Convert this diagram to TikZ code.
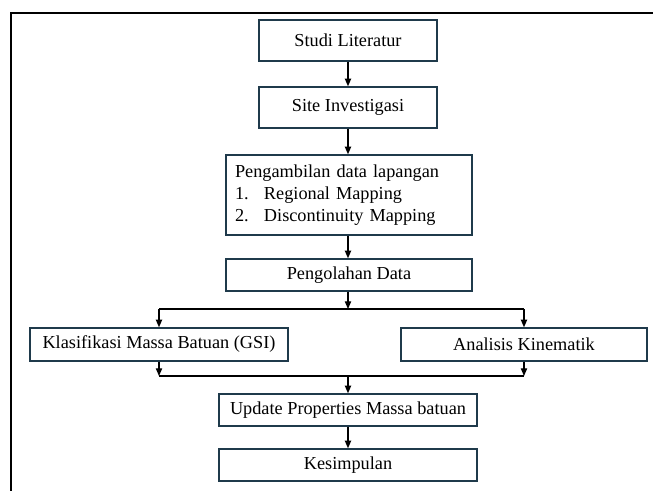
\documentclass[tikz,border=0pt]{standalone}
\usepackage{fontspec}
\setmainfont{Liberation Serif}
\usetikzlibrary{arrows.meta}
\definecolor{boxline}{HTML}{1F3A4B}

\begin{document}
\begin{tikzpicture}[
    box/.style={draw=boxline, line width=1pt, minimum height=0.8cm, inner sep=0pt,
      font=\fontsize{13}{15.6}\selectfont},
    arr/.style={-{Triangle[length=5.5pt,width=4.5pt]}, line width=0.9pt}
  ]
    \useasboundingbox (0,0) rectangle (16.325,12.275);
    \draw[line width=1.4pt] (0.275,0) -- (0.275,11.95) -- (16.5,11.95);

    \node[box, minimum width=4.45cm, minimum height=1.025cm] (studi) at (8.7,11.2625) {Studi Literatur};
    \node[box, minimum width=4.45cm, minimum height=1.025cm] (site) at (8.7,9.5875) {Site Investigasi};
    \node[box, minimum width=6.15cm, minimum height=2cm, text width=5.7cm, align=left] (ambil) at (8.725,7.4)
      {Pengambilan data lapangan\\
       \makebox[0.725cm][l]{1.}Regional Mapping\\
       \makebox[0.725cm][l]{2.}Discontinuity Mapping};
    \node[box, minimum width=6.15cm] (olah) at (8.725,5.4) {Pengolahan Data};
    \node[box, minimum width=6.45cm, minimum height=0.825cm] (gsi) at (3.975,3.6625) {Klasifikasi Massa Batuan (GSI)};
    \node[box, minimum width=6.15cm, minimum height=0.825cm] (kin) at (13.1,3.6625) {Analisis Kinematik};
    \node[box, minimum width=6.45cm] (update) at (8.7,2.025) {Update Properties Massa batuan};
    \node[box, minimum width=6.45cm] (simpul) at (8.7,0.65) {Kesimpulan};

    \coordinate (split) at (8.7,4.55);
    \coordinate (merge) at (8.7,2.875);

    \draw[arr] (studi) -- (site);
    \draw[arr] (site.south) -- (site.south |- ambil.north);
    \draw[arr] (ambil.south -| site.south) -- (olah.north -| site.south);
    \draw[arr] (olah.south -| split) -- (split);
    \draw[line width=0.9pt] (split -| gsi.north) -- (split -| kin.north);
    \draw[arr] (split -| gsi.north) -- (gsi.north);
    \draw[arr] (split -| kin.north) -- (kin.north);
    \draw[arr] (gsi.south) -- (gsi.south |- merge);
    \draw[arr] (kin.south) -- (kin.south |- merge);
    \draw[line width=0.9pt] (gsi.south |- merge) -- (kin.south |- merge);
    \draw[arr] (merge) -- (update.north);
    \draw[arr] (update) -- (simpul);
  \end{tikzpicture}
\end{document}
